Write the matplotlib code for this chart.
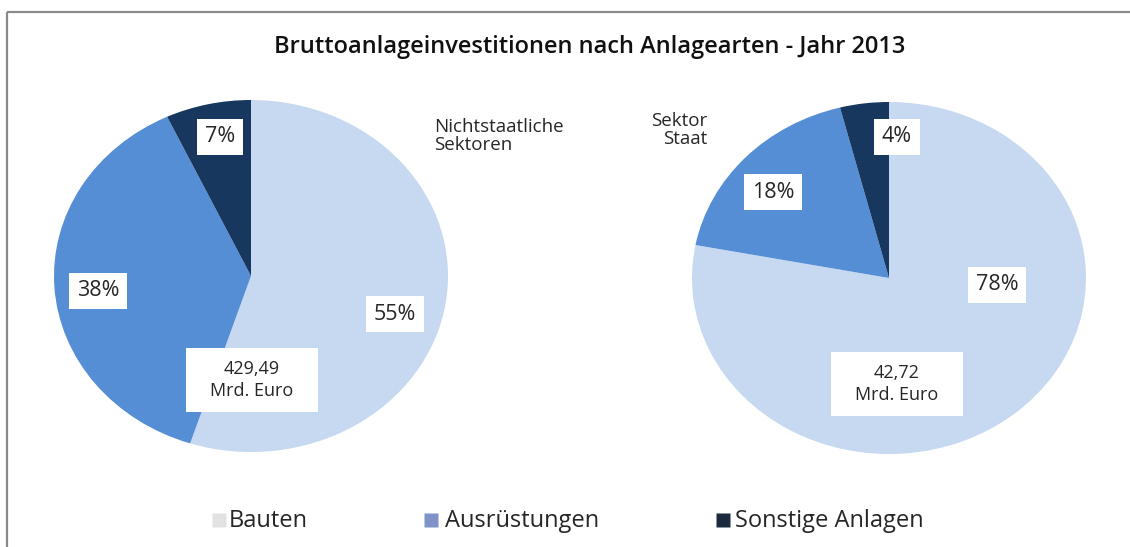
import matplotlib
matplotlib.use("Agg")
import matplotlib.pyplot as plt
from matplotlib.patches import Rectangle

plt.rcParams['font.family'] = ['Open Sans', 'DejaVu Sans']

# ---- data ----
title = "Bruttoanlageinvestitionen nach Anlagearten - Jahr 2013"
categories = ["Bauten", "Ausrüstungen", "Sonstige Anlagen"]
nonstate_pct = [55, 38, 7]
state_pct = [78, 18, 4]
nonstate_total = "429,49\nMrd. Euro"
state_total = "42,72\nMrd. Euro"
nonstate_name = "Nichtstaatliche\nSektoren"
state_name = "Sektor\nStaat"

# ---- style ----
pie_colors = ["#C6D9F1", "#558ED5", "#17375E"]
legend_colors = ["#E2E2E2", "#8093C9", "#1B2A3C"]
text_col = "#262626"

W, H = 1130, 547
fig = plt.figure(figsize=(W / 100, H / 100), dpi=100)
fig.patch.set_facecolor("white")

def px_axes(cx, cy, rx, ry):
    return fig.add_axes([(cx - rx) / W, (H - (cy + ry)) / H, 2 * rx / W, 2 * ry / H])

ax1 = px_axes(251, 276, 197, 176)
ax2 = px_axes(889, 278, 197, 176)
for ax, vals in ((ax1, nonstate_pct), (ax2, state_pct)):
    ax.pie(vals, colors=pie_colors, startangle=90, counterclock=False,
           radius=1, wedgeprops=dict(linewidth=0))
    ax.set_aspect('auto')
    ax.set_xlim(-1, 1)
    ax.set_ylim(-1, 1)
    ax.axis('off')

# overlay in pixel coordinates
ov = fig.add_axes([0, 0, 1, 1], zorder=5)
ov.set_xlim(0, W)
ov.set_ylim(H, 0)
ov.axis('off')

# frame lines
ov.plot([7, W], [12, 12], color="#8A8A8A", lw=1.6, solid_capstyle='butt')
ov.plot([7, 7], [12, H], color="#8A8A8A", lw=1.6, solid_capstyle='butt')

ov.text(590, 53, title, ha='center', va='baseline', fontsize=17,
        fontweight='semibold', color="#111111")

ov.text(434, 136, nonstate_name, ha='left', va='center', fontsize=13.5,
        color=text_col, linespacing=1.05)
ov.text(707, 130, state_name, ha='right', va='center', fontsize=13.5,
        color=text_col, linespacing=1.05, multialignment='right')

# percentage labels
label_pos_1 = [(395, 314), (98, 291), (220, 137)]
label_pos_2 = [(997, 285), (773, 192), (897, 137)]
for vals, poss in ((nonstate_pct, label_pos_1), (state_pct, label_pos_2)):
    for v, (x, y) in zip(vals, poss):
        ov.text(x, y, f"{v}%", ha='center', va='center', fontsize=15.5,
                color=text_col,
                bbox=dict(boxstyle='square,pad=0.35', fc='white', ec='none'))

# total boxes
for (cx, cy), txt in (((252, 380), nonstate_total), ((897, 384), state_total)):
    ov.add_patch(Rectangle((cx - 66, cy - 32), 132, 64, fc='white', ec='none'))
    ov.text(cx, cy, txt, ha='center', va='center', fontsize=13,
            color=text_col, linespacing=1.25)

# legend
leg_marker_x = [219, 431, 723]
leg_text_x = [229, 445, 735]
leg_y = 520
for c, mx, tx, name in zip(legend_colors, leg_marker_x, leg_text_x, categories):
    ov.plot([mx], [leg_y], marker='s', ms=10.5, color=c, mec='none')
    ov.text(tx, leg_y + 1, name, ha='left', va='center', fontsize=17,
            color=text_col)

fig.savefig("out.png", dpi=100, facecolor="white")
